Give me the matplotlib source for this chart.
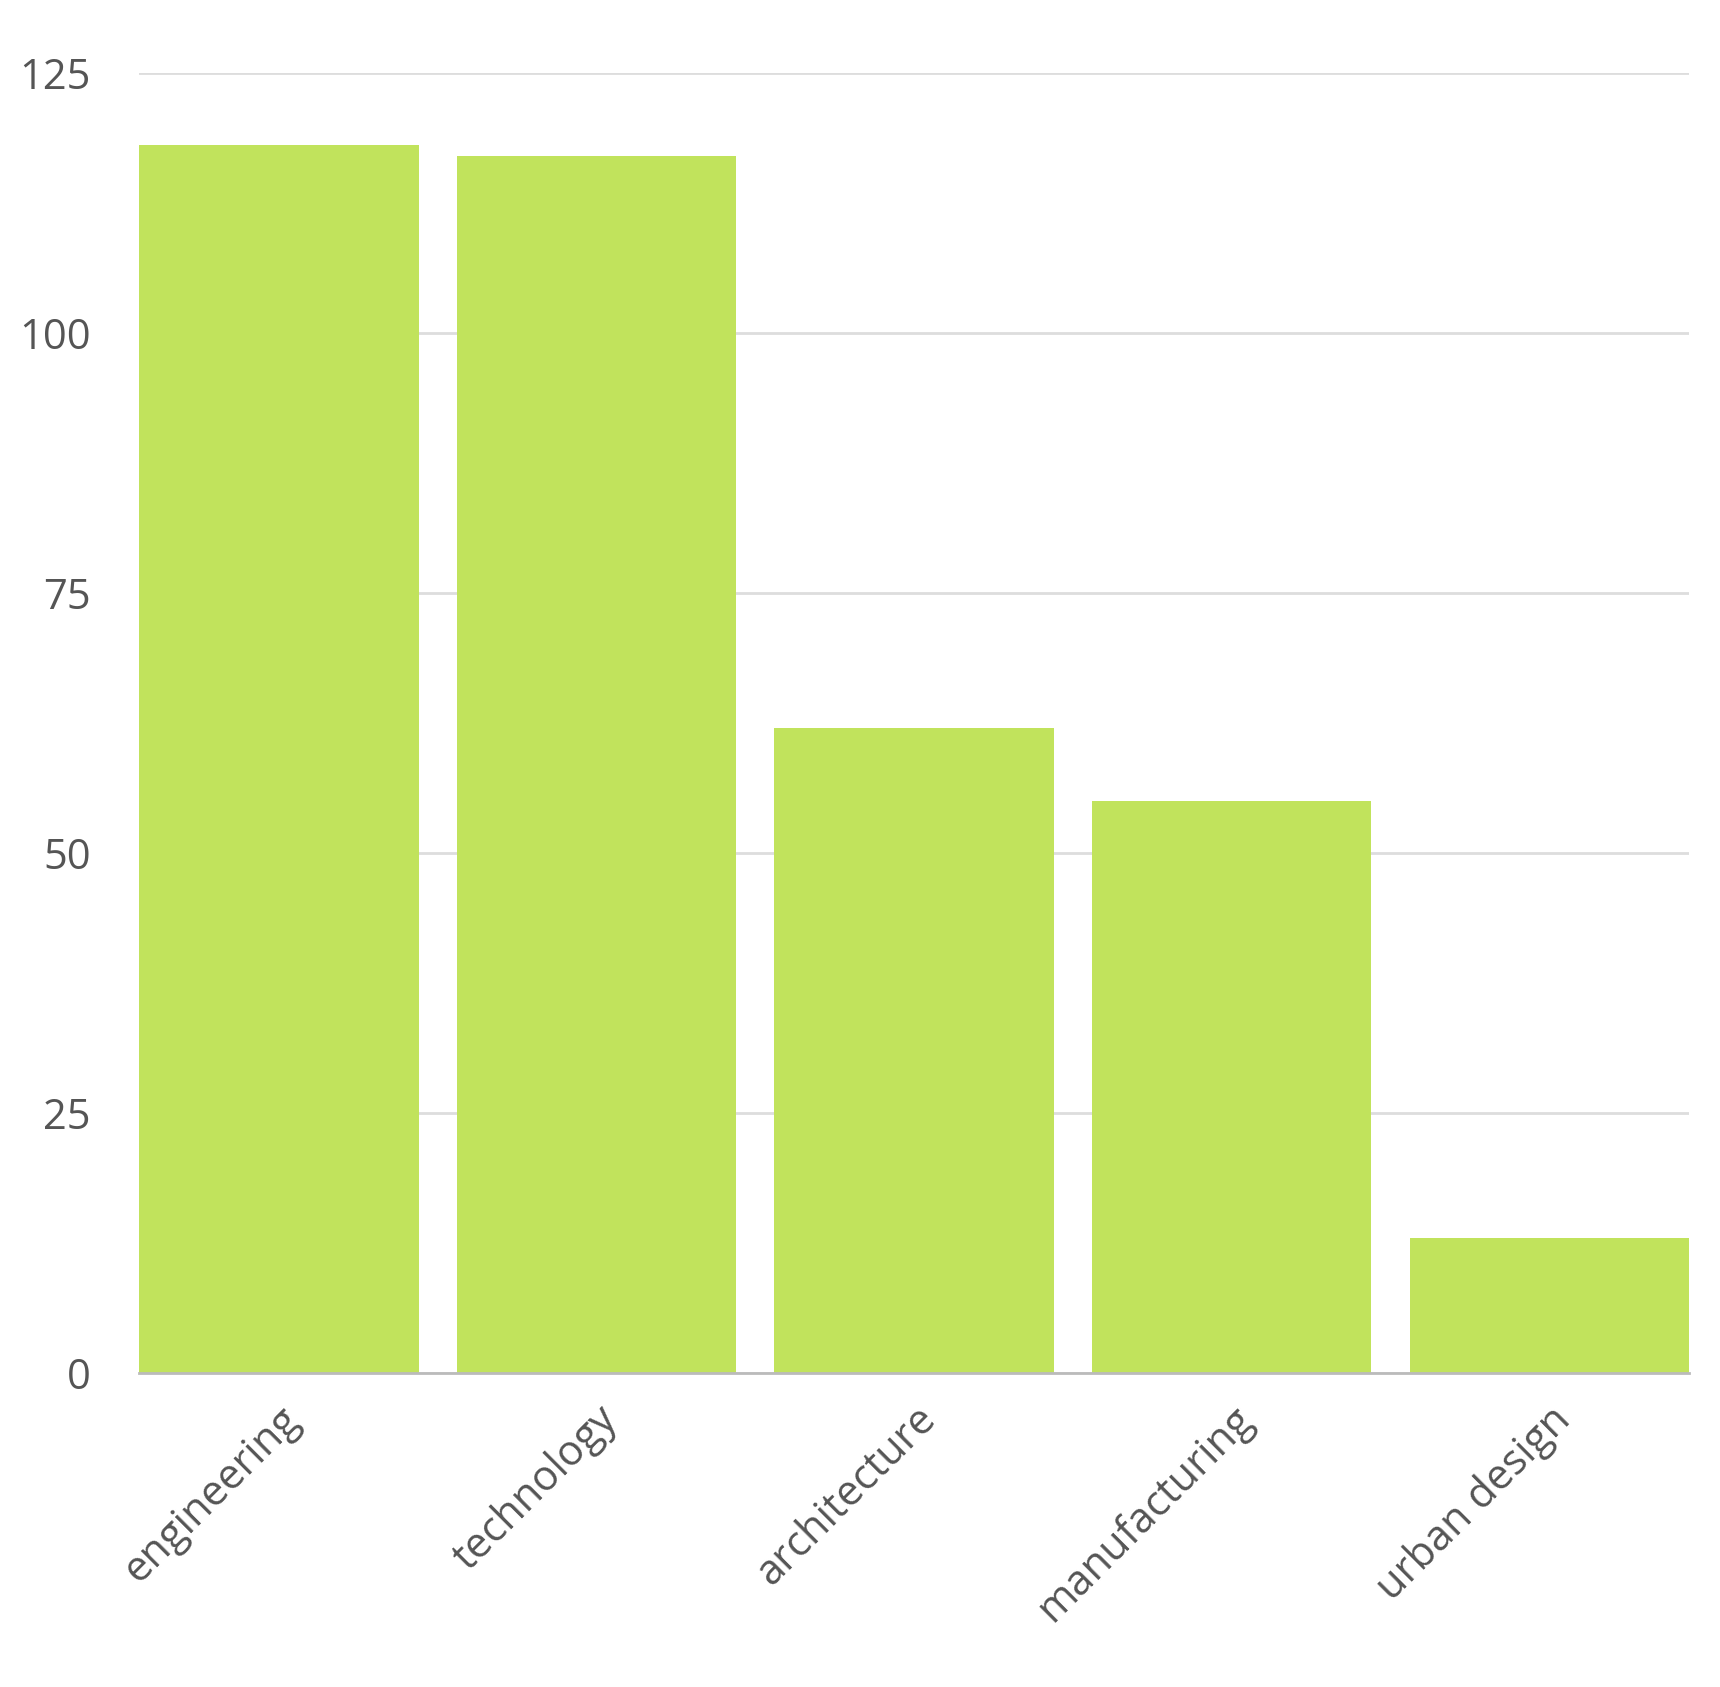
import matplotlib.pyplot as plt

categories = ['engineering', 'technology', 'architecture', 'manufacturing', 'urban design']
values = [118, 117, 62, 55, 13]
yticks = [0, 25, 50, 75, 100, 125]

plt.rcParams['font.family'] = ['Open Sans', 'DejaVu Sans']

fig = plt.figure(figsize=(17.2, 16.87), dpi=100)
ax = fig.add_axes([0.081, 0.186, 0.901, 0.771])

x = range(len(categories))
ax.bar(x, values, width=0.88, color='#c1e35c', zorder=2)

ax.set_xlim(-0.44, len(categories) - 0.56)
ax.set_ylim(0, 125)
ax.set_yticks(yticks)
ax.yaxis.grid(True, color='#dddddd', linewidth=2, zorder=0)
ax.set_xticks(list(x))
ax.set_xticklabels(categories, rotation=45, ha='right', rotation_mode='anchor')
ax.tick_params(axis='both', length=0, labelsize=30, labelcolor='#555555')
ax.tick_params(axis='x', pad=18)
ax.tick_params(axis='y', pad=35)
for lbl in ax.get_yticklabels():
    lbl.set_horizontalalignment('right')

for s in ['top', 'right', 'left']:
    ax.spines[s].set_visible(False)
ax.spines['bottom'].set_color('#bbbbbb')
ax.spines['bottom'].set_linewidth(2)

fig.savefig('out.png')
